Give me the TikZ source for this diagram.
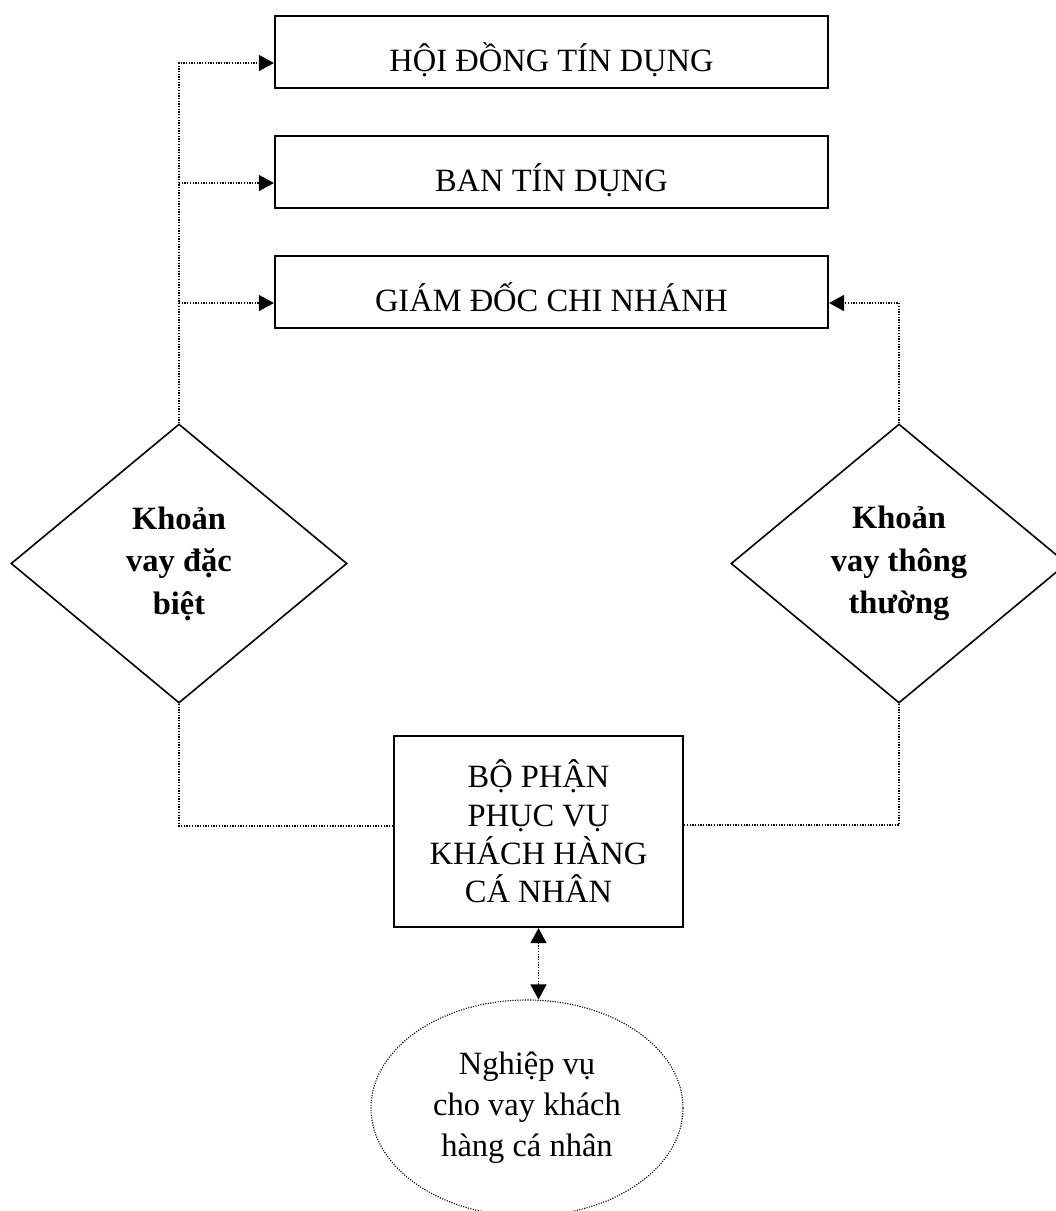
\documentclass[tikz,border=0pt]{standalone}
\usepackage{fontspec}
\setmainfont{Liberation Serif}
\usetikzlibrary{shapes.geometric,arrows.meta,calc}
\begin{document}
\begin{tikzpicture}[x=1pt,y=-1pt,
  topbox/.style={draw,line width=2.2pt,minimum width=553pt,minimum height=72pt,inner sep=0pt,
    text height=38pt,text depth=0pt,font=\fontsize{32.5}{40}\selectfont},
  midbox/.style={draw,line width=2.2pt,minimum width=289pt,minimum height=191pt,inner sep=0pt,
    align=center,font=\fontsize{32.5}{38.3}\selectfont},
  decide/.style={draw,diamond,line width=1.6pt,minimum width=336pt,minimum height=279pt,inner sep=0pt,
    align=center,font=\fontsize{32.5}{42.5}\selectfont\bfseries},
  oval/.style={draw,ellipse,line width=1.1pt,dash pattern=on 1.1pt off 1.4pt,minimum width=312pt,
    minimum height=216pt,inner sep=0pt,align=center,font=\fontsize{32.5}{41}\selectfont},
  conn/.style={line width=1.3pt,dash pattern=on 1.3pt off 1.4pt},
  tip/.style={-{Triangle[length=15pt,width=16pt]}},
  tips/.style={{Triangle[length=15pt,width=16pt]}-{Triangle[length=15pt,width=16pt]}}
]
\useasboundingbox (0,0) rectangle (1056,1211);
\node[topbox] (b1) at (551.5,52) {HỘI ĐỒNG TÍN DỤNG};
\node[topbox] (b2) at (551.5,172) {BAN TÍN DỤNG};
\node[topbox] (b3) at (551.5,292) {GIÁM ĐỐC CHI NHÁNH};
\node[decide] (dL) at (179,563.5) {Khoản\\vay đặc\\biệt};
\node[decide] (dR) at (899,563.5) {Khoản\\vay thông\\thường};
\node[midbox] (cb) at (538.5,831.5) {BỘ PHẬN\\PHỤC VỤ\\KHÁCH HÀNG\\CÁ NHÂN};
\node[oval] (el) at (527,1108) {Nghiệp vụ\\cho vay khách\\hàng cá nhân};
% left branch
\draw[conn,tip] (dL.north) |- ([yshift=-11pt]b1.west);
\draw[conn,tip] ([yshift=-11pt]b2.west -| dL.north) -- ([yshift=-11pt]b2.west);
\draw[conn,tip] ([yshift=-11pt]b3.west -| dL.north) -- ([yshift=-11pt]b3.west);
% right branch
\draw[conn,tip] (dR.north) |- ([yshift=-11pt]b3.east);
% bottom links
\draw[conn] (dL.south) |- ([yshift=5.5pt]cb.west);
\draw[conn] (dR.south) |- ([yshift=6.5pt]cb.east);
% double arrow
\draw[conn,tips] (cb.south) -- (cb.south |- el.north);
\end{tikzpicture}
\end{document}
